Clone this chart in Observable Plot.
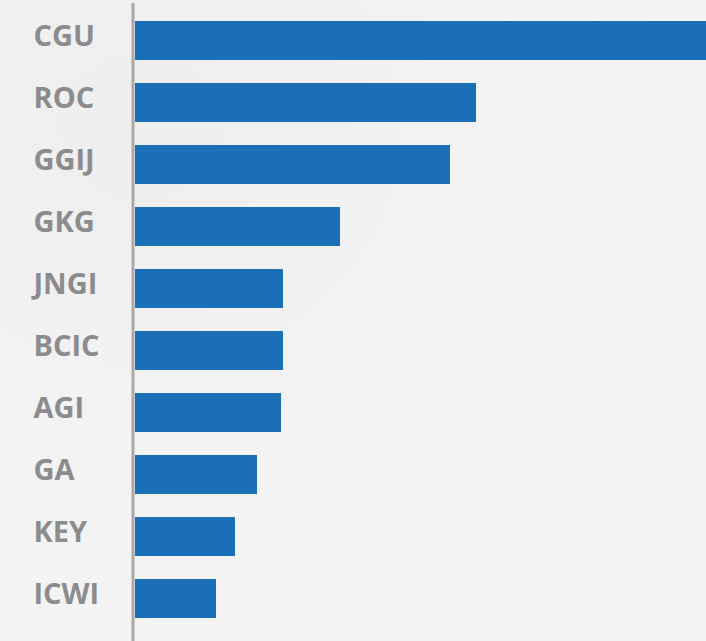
<!DOCTYPE html>
<html>
<head>
<meta charset="utf-8">
<script src="https://cdn.jsdelivr.net/npm/d3@7"></script>
<script src="https://cdn.jsdelivr.net/npm/@observablehq/plot@0.6"></script>
<style>
  html, body { margin: 0; padding: 0; }
  body {
    width: 706px; height: 641px; overflow: hidden;
    background: radial-gradient(ellipse at 20% 20%, #eeeeee 0%, #f3f3f3 45%, #f4f4f4 100%);
  }
  #chart svg { display: block; }
</style>
</head>
<body>
<div id="chart"></div>
<script>
const names = ["CGU", "ROC", "GGIJ", "GKG", "JNGI", "BCIC", "AGI", "GA", "KEY", "ICWI"];
const values = [57.1, 34.1, 31.5, 20.5, 14.8, 14.8, 14.6, 12.2, 10.0, 8.1];

const data = names.map((name, i) => ({name, value: values[i]}));

const chart = Plot.plot({
  width: 706,
  height: 641,
  marginTop: 3,
  marginBottom: 0,
  marginLeft: 135,
  marginRight: 0,
  style: {background: "transparent", overflow: "visible"},
  x: {domain: [0, 57.1], range: [135, 706], axis: null},
  y: {domain: names, range: [20, 619], paddingInner: 0.373, paddingOuter: 0, axis: null},
  marks: [
    Plot.barX(data, {x: "value", y: "name", fill: "#1a6fb7"}),
    Plot.ruleX([0], {stroke: "#a9a9ab", strokeWidth: 3, dx: -2.5}),
    Plot.text(data, {
      y: "name", text: "name", frameAnchor: "left", textAnchor: "start",
      dx: -102, dy: -4, fill: "#8c8c8e", fontSize: 29, fontWeight: 700,
      fontFamily: "'Open Sans', sans-serif"
    })
  ]
});
document.getElementById("chart").appendChild(chart);
</script>
</body>
</html>
